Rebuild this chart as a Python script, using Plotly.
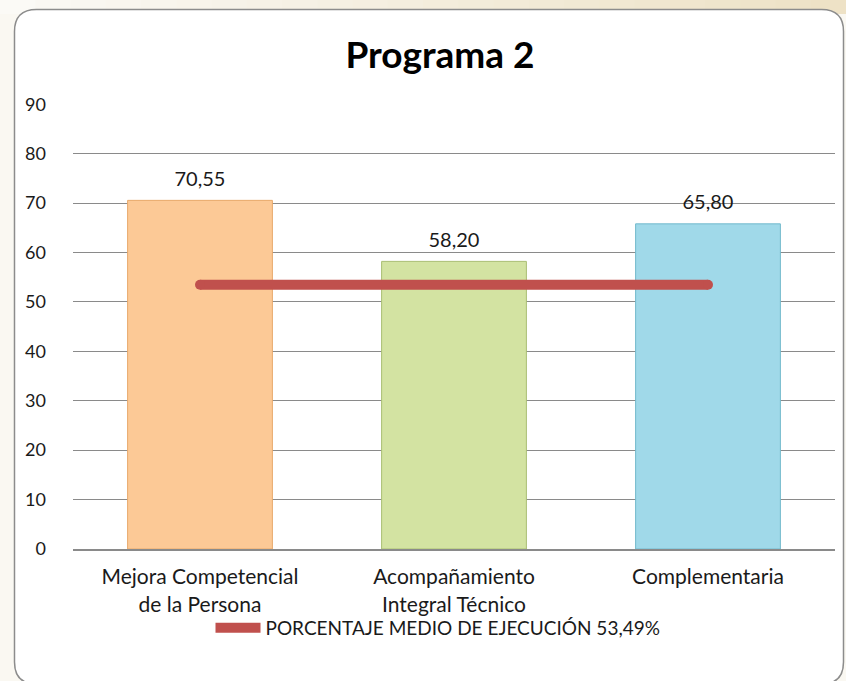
import plotly.graph_objects as go

categories = ["Mejora Competencial<br>de la Persona", "Acompañamiento<br>Integral Técnico", "Complementaria"]
values = [70.55, 58.20, 65.80]
value_labels = ["70,55", "58,20", "65,80"]
mean_value = 53.49
mean_label = "PORCENTAJE MEDIO DE EJECUCIÓN 53,49%"
y_ticks = [0, 10, 20, 30, 40, 50, 60, 70, 80, 90]

W, H = 846, 681
L, R, T, B = 73, 835, 104, 549

def px(x):
    return (x - L) / (R - L)

def py(y):
    return (B - y) / (B - T)

bar_colors = ["#FCC996", "#D3E3A2", "#A0D9E9"]
bar_lines = ["#E8A86A", "#A9BE72", "#72B9CC"]

fig = go.Figure()
fig.add_trace(go.Bar(
    x=categories, y=values,
    marker=dict(color=bar_colors, line=dict(color=bar_lines, width=1)),
    width=0.57, showlegend=False,
))
fig.add_trace(go.Scatter(
    x=categories, y=values, text=value_labels, mode="text+markers", textposition="top center",
    marker=dict(size=14, opacity=0), textfont=dict(size=20, color="#1a1a1a"),
    showlegend=False, cliponaxis=False, hoverinfo="skip",
))
fig.add_trace(go.Scatter(
    x=categories, y=[mean_value] * len(categories), mode="lines",
    line=dict(color="#C0504D", width=10), name=mean_label, showlegend=True,
))
fig.add_trace(go.Scatter(
    x=[categories[0], categories[-1]], y=[mean_value, mean_value], mode="markers",
    marker=dict(color="#C0504D", size=10, line=dict(width=0)), showlegend=False, hoverinfo="skip",
))

shapes = []
# top gradient band of the background
n = 24
c0 = (251, 250, 246)
c1 = (238, 226, 198)
for i in range(n):
    t = i / (n - 1)
    col = "rgb(%d,%d,%d)" % tuple(int(c0[k] + (c1[k] - c0[k]) * t) for k in range(3))
    x0 = W * i / n
    x1 = W * (i + 1) / n + 1
    shapes.append(dict(type="rect", xref="paper", yref="paper", x0=px(x0), x1=px(x1),
                       y0=py(14), y1=py(0), fillcolor=col, line=dict(width=0), layer="below"))

# rounded white frame
fx0, fy0, fx1, fy1, r = 14.5, 9.5, 843.5, 684, 22
def P(x, y):
    return "%f,%f" % (px(x), py(y))
path = ("M " + P(fx0 + r, fy0) + " L " + P(fx1 - r, fy0) + " Q " + P(fx1, fy0) + " " + P(fx1, fy0 + r) +
        " L " + P(fx1, fy1 - r) + " Q " + P(fx1, fy1) + " " + P(fx1 - r, fy1) +
        " L " + P(fx0 + r, fy1) + " Q " + P(fx0, fy1) + " " + P(fx0, fy1 - r) +
        " L " + P(fx0, fy0 + r) + " Q " + P(fx0, fy0) + " " + P(fx0 + r, fy0) + " Z")
shapes.append(dict(type="path", xref="paper", yref="paper", path=path, fillcolor="white",
                   line=dict(color="#8c8c8c", width=1.5), layer="below"))

fig.update_layout(
    template="none",
    width=W, height=H,
    margin=dict(l=L, r=W - R, t=T, b=H - B, pad=0),
    paper_bgcolor="#FAF8F2",
    plot_bgcolor="rgba(0,0,0,0)",
    font=dict(family="Lato, 'Open Sans', sans-serif", size=16, color="#1a1a1a"),
    title=dict(text="<b>Programa 2</b>", x=440 / W, xref="container", xanchor="center",
               y=1 - 55 / H, yref="container", yanchor="middle",
               font=dict(size=37, color="#000000")),
    shapes=shapes,
    hovermode=False,
    legend=dict(orientation="h", x=438 / W, xref="container", xanchor="center",
                y=1 - 628 / H, yref="container", yanchor="middle",
                bgcolor="rgba(0,0,0,0)", font=dict(size=19), itemwidth=45),
    yaxis=dict(range=[0, 90.05], tickvals=y_ticks, showgrid=True, gridcolor="#8a8a8a", gridwidth=1,
               zeroline=False, showline=False, ticks="", ticklabelstandoff=26,
               tickfont=dict(size=18), automargin=False),
    xaxis=dict(showline=True, linecolor="#8a8a8a", linewidth=2, ticks="", showgrid=False,
               tickfont=dict(size=21), ticklabelstandoff=8, automargin=False),
)

fig.write_html("out.html", config={"displayModeBar": False},
               post_script="document.body.style.margin='0';document.body.style.padding='0';")
